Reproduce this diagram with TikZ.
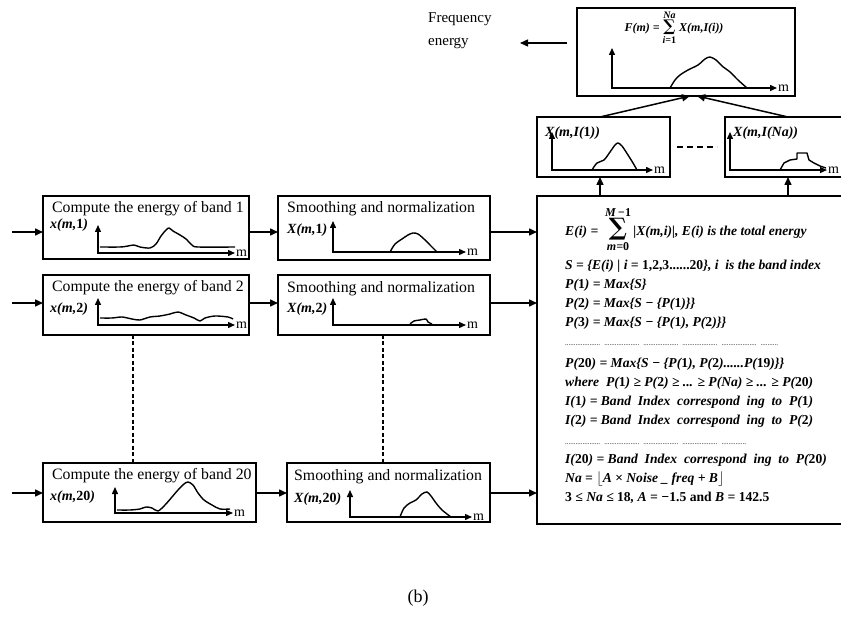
\documentclass[tikz,border=0pt]{standalone}
\usepackage{fontspec}
\setmainfont{Liberation Serif}
\newfontfamily\sumfont{DejaVu Serif}
\usetikzlibrary{arrows.meta}
\newcommand{\eqf}{\fontsize{13.6}{15}\selectfont\bfseries\itshape}
\newcommand{\limf}{\fontsize{12}{13}\selectfont\bfseries\itshape}
\newcommand{\up}[1]{{\upshape #1}}
\newcommand{\bigsum}[3]{$\displaystyle\mathop{\hbox{\sumfont\fontsize{#1}{#1}\selectfont ∑}}\limits_{\hbox{#2}}^{\hbox{#3}}$}
\begin{document}
\begin{tikzpicture}[x=1pt,y=-1pt,
  blk/.style={draw, line width=1.5pt, inner sep=0pt, outer sep=0pt, anchor=north west},
  arr/.style={line width=1.5pt, -{Triangle[length=8pt,width=7pt]}},
  ax/.style={line width=1.4pt, {Triangle[length=7pt,width=6pt]}-{Triangle[length=7pt,width=6pt]}},
  crv/.style={line width=1.4pt, line join=round},
  ttl/.style={inner sep=0pt, anchor=base west, font=\fontsize{15.8}{18}\selectfont},
  lab/.style={inner sep=0pt, anchor=base west, font=\fontsize{14}{16}\selectfont\bfseries\itshape},
  mlab/.style={inner sep=0pt, anchor=west, font=\fontsize{14}{16}\selectfont},
  eq/.style={inner sep=0pt, anchor=base west, font=\eqf},
  dotrow/.style={inner sep=0pt, anchor=base west, font=\fontsize{7}{8}\selectfont},
  vdash/.style={line width=1.1pt, dash pattern=on 4pt off 2.5pt},
]
\useasboundingbox (0,0) rectangle (841,636);

% ---------- row boxes ----------
\node[blk, minimum width=206pt, minimum height=63pt] (A1) at (43,196) {};
\node[blk, minimum width=212pt, minimum height=64pt] (B1) at (278,196) {};
\node[blk, minimum width=206pt, minimum height=60pt] (A2) at (43,275) {};
\node[blk, minimum width=212pt, minimum height=60pt] (B2) at (278,275) {};
\node[blk, minimum width=213pt, minimum height=59pt] (A20) at (43,463) {};
\node[blk, minimum width=203pt, minimum height=59pt] (B20) at (287,463) {};
\node[blk, minimum width=318pt, minimum height=328pt] (C) at (537,196) {};
\node[blk, minimum width=133pt, minimum height=60pt] (D1) at (537,117) {};
\node[blk, minimum width=135pt, minimum height=60pt] (D2) at (725,117) {};
\node[blk, minimum width=218pt, minimum height=88pt] (F) at (577,8) {};

% ---------- titles and labels ----------
\node[ttl] (tA1) at (52,213) {Compute the energy of band 1};
\node[lab] (lA1) at (50,229) {x(m,\up{1})};
\node[ttl] (tB1) at (287,213) {Smoothing and normalization};
\node[lab] (lB1) at (287,234) {X(m,\up{1})};
\node[ttl] (tA2) at (52,292) {Compute the energy of band 2};
\node[lab] (lA2) at (50,313) {x(m,\up{2})};
\node[ttl] (tB2) at (287,293) {Smoothing and normalization};
\node[lab] (lB2) at (287,313) {X(m,\up{2})};
\node[ttl] (tA20) at (52,479) {Compute the energy of band 20};
\node[lab] (lA20) at (50,500) {x(m,\up{20})};
\node[ttl] (tB20) at (294,480) {Smoothing and normalization};
\node[lab] (lB20) at (294,502) {X(m,\up{20})};
\node[lab] (lD1) at (545,137) {X(m,I(\up{1}))};
\node[lab] (lD2) at (733,137) {X(m,I(Na))};

% ---------- axes ----------
\draw[ax] (98,225) -- (98,253) -- (235,253);
\node[mlab] (mA1) at (236,253) {m};
\draw[ax] (98,298) -- (98,325) -- (235,325);
\node[mlab] (mA2) at (236,325) {m};
\draw[ax] (115,487) -- (115,513) -- (233,513);
\node[mlab] (mA20) at (234,513) {m};
\draw[ax] (333,221) -- (333,252) -- (466,252);
\node[mlab] (mB1) at (467,252) {m};
\draw[ax] (333,298) -- (333,325) -- (466,325);
\node[mlab] (mB2) at (467,325) {m};
\draw[ax] (350,490) -- (350,517) -- (472,517);
\node[mlab] (mB20) at (473,517) {m};
\draw[ax] (552,132) -- (552,170) -- (653,170);
\node[mlab] (mD1) at (654,170) {m};
\draw[ax] (730,132) -- (730,170) -- (827,170);
\node[mlab] (mD2) at (828,170) {m};
\draw[ax] (612,48) -- (612,88) -- (777,88);
\node[mlab] (mF) at (778,88) {m};

% ---------- curves ----------
\draw[crv] plot[smooth, tension=0.5] coordinates {(100,247) (120,247) (128,246) (134,245) (140,247) (150,248) (156,244) (161,236) (166,230) (169,228) (173,231) (180,235) (186,239) (192,245) (198,247) (235,247)};
\draw[crv] plot[smooth, tension=0.5] coordinates {(100,318) (112,318) (122,317) (132,319) (140,320) (150,317) (160,316) (170,314) (178,312) (186,315) (194,318) (200,321) (205,318) (215,316) (228,317) (233,319)};
\draw[crv] plot[smooth, tension=0.5] coordinates {(117,510) (130,510) (140,509) (146,507) (152,508) (158,511) (165,505) (172,497) (178,490) (184,484) (188,482) (193,485) (198,493) (204,500) (212,505) (220,509) (230,509)};
\draw[crv] plot[smooth, tension=0.5] coordinates {(390,252) (395,244) (402,239) (408,235) (413,233) (418,234) (424,239) (430,245) (437,252)};
\draw[crv] plot[smooth, tension=0.5] coordinates {(410,324) (414,321) (420,320) (426,319) (428,322) (432,324)};
\draw[crv] plot[smooth, tension=0.5] coordinates {(400,517) (404,508) (410,503) (416,500) (422,494) (427,492) (431,496) (436,503) (442,510) (451,517)};
\draw[crv] plot[smooth, tension=0.5] coordinates {(592,170) (597,163) (604,160) (610,152) (615,145) (618,143) (622,146) (628,155) (633,163) (637,170)};
\draw[crv] (780,170) -- (784,163) -- (790,160) -- (797,159) -- (797,153) -- (807,153) -- (809,160) -- (814,163) -- (820,166) -- (826,168);
\draw[crv] plot[smooth, tension=0.5] coordinates {(670,88) (675,80) (680,75) (688,70) (698,65) (705,59) (710,57) (716,60) (722,66) (730,72) (738,80) (747,88)};

% ---------- F formula ----------
\node[inner sep=0pt, anchor=base, font=\fontsize{12}{14}\selectfont\bfseries\itshape] (fF) at (674,32)
  {F(m) = \bigsum{16}{\fontsize{10}{10}\selectfont\bfseries\itshape i=\up{1}}{\fontsize{10}{10}\selectfont\bfseries\itshape Na} X(m,I(i))};

% ---------- C equations ----------
\node[eq] (e1) at (565,236) {E(i) = \ \bigsum{24}{\limf m=\up{0}}{\limf M\,−\up{1}}\,|X(m,i)|, E(i) is the total energy};
\node[eq] (e2) at (565,270) {S = \{E(i) | i = \up{1,2,3......20}\}, i \ is the band index};
\node[eq] (e3) at (565,289) {P(\up{1}) = Max\{S\}};
\node[eq] (e4) at (565,308) {P(\up{2}) = Max\{S − \{P(\up{1})\}\}};
\node[eq] (e5) at (565,327) {P(\up{3}) = Max\{S − \{P(\up{1}), P(\up{2})\}\}};
\node[dotrow] (d1) at (565,346) {.................... \ .................... \ .................... \ .................... \ .................... \ ..........};
\node[eq] (e6) at (565,367) {P(\up{20}) = Max\{S − \{P(\up{1}), P(\up{2})......P(\up{19})\}\}};
\node[eq] (e7) at (565,386) {where \ P(\up{1}) ≥ P(\up{2}) ≥ ... ≥ P(Na) ≥ ... ≥ P(\up{20})};
\node[eq] (e8) at (565,405) {I(\up{1}) = Band \ Index \ correspond \ ing \ to \ P(\up{1})};
\node[eq] (e9) at (565,424) {I(\up{2}) = Band \ Index \ correspond \ ing \ to \ P(\up{2})};
\node[dotrow] (d2) at (565,444) {.................... \ .................... \ .................... \ .................... \ ..............};
\node[eq] (e10) at (565,463) {I(\up{20}) = Band \ Index \ correspond \ ing \ to \ P(\up{20})};
\node[eq] (e11) at (565,482) {Na = $\lfloor$A × Noise \_ freq + B$\rfloor$};
\node[eq] (e12) at (565,501) {\up{3} ≤ Na ≤ \up{18}, A = −\up{1.5} \up{and} B = \up{142.5}};

% ---------- connectors ----------
\coordinate (in1) at (12,232);
\coordinate (in2) at (12,303);
\coordinate (in20) at (12,493);
\coordinate (y1) at (0,232);
\coordinate (y2) at (0,303);
\coordinate (y20) at (0,493);
\draw[arr] (in1) -- (A1.west |- y1);
\draw[arr] (in2) -- (A2.west |- y2);
\draw[arr] (in20) -- (A20.west |- y20);
\draw[arr] (A1.east |- y1) -- (B1.west |- y1);
\draw[arr] (A2.east |- y2) -- (B2.west |- y2);
\draw[arr] (A20.east |- y20) -- (B20.west |- y20);
\draw[arr] (B1.east |- y1) -- (C.west |- y1);
\draw[arr] (B2.east |- y2) -- (C.west |- y2);
\draw[arr] (B20.east |- y20) -- (C.west |- y20);

\coordinate (xd1) at (600,0);
\coordinate (xd2) at (788,0);
\draw[arr] (C.north -| xd1) -- (D1.south -| xd1);
\draw[arr] (C.north -| xd2) -- (D2.south -| xd2);
\coordinate (fl) at (690,96);
\coordinate (fr) at (697,96);
\draw[arr] (D1.north -| xd1) -- (fl);
\draw[arr] (D2.north -| xd2) -- (fr);

% dashed continuations
\coordinate (xa) at (133,0);
\coordinate (xb) at (383,0);
\draw[vdash] (A2.south -| xa) -- (A20.north -| xa);
\draw[vdash] (B2.south -| xb) -- (B20.north -| xb);
\coordinate (dl) at (677,147);
\coordinate (dr) at (717,147);
\draw[line width=1.2pt, dash pattern=on 6pt off 4pt] (dl) -- (dr);

% output
\node[inner sep=0pt, anchor=north west, align=left, font=\fontsize{15}{23}\selectfont] (out) at (428,12) {Frequency\\energy};
\coordinate (fo) at (520,43);
\draw[line width=1.3pt, -{Triangle[length=8pt,width=7pt]}] (F.west |- fo) ++(-10,0) -- (fo);

\node[inner sep=0pt, font=\fontsize{18}{20}\selectfont] (cap) at (418,598) {(b)};
\end{tikzpicture}
\end{document}
